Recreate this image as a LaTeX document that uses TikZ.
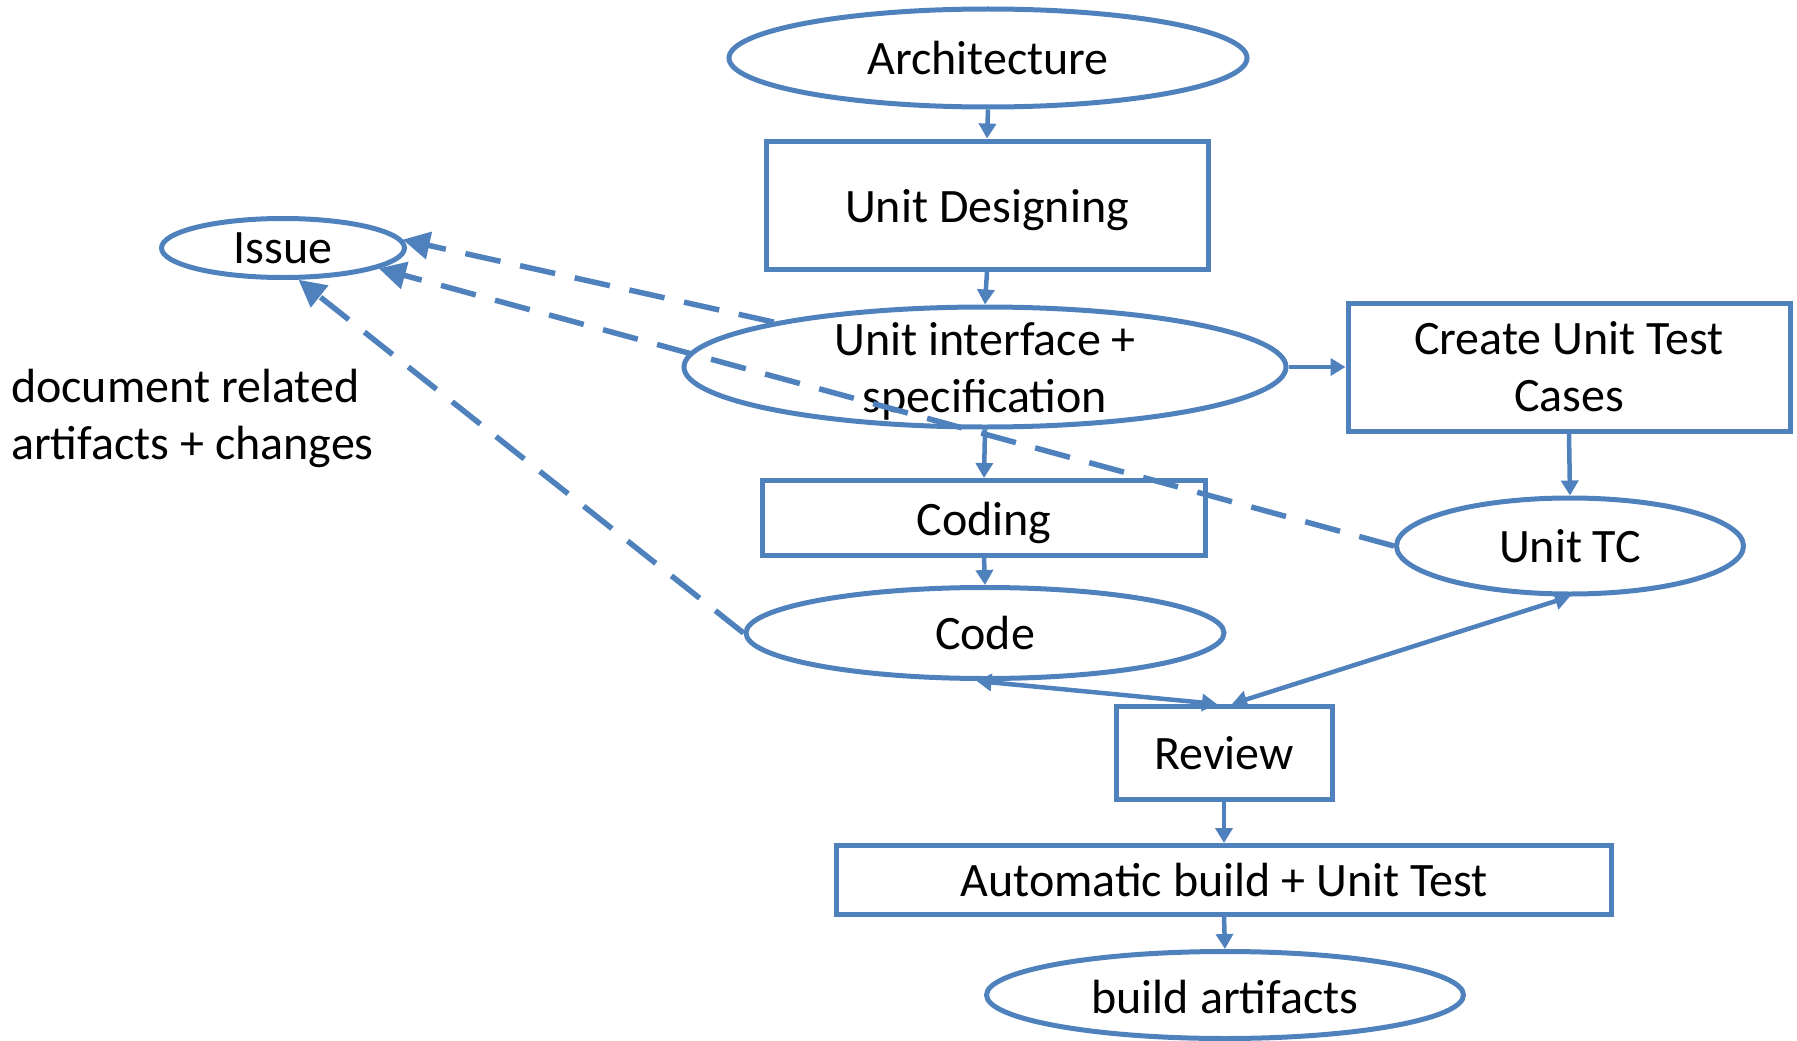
\documentclass[tikz,border=0pt]{standalone}
\usepackage{fontspec}
\setmainfont{Carlito}
\usetikzlibrary{arrows.meta,shapes.geometric}
\definecolor{ob}{HTML}{4F81BD}
\begin{document}
\begin{tikzpicture}[x=1pt,y=-1pt,
 every node/.style={font=\fontsize{48}{57}\selectfont, text=black},
 ell/.style={ellipse, draw=ob, line width=5pt, inner sep=0pt},
 box/.style={rectangle, draw=ob, line width=5pt, inner sep=0pt, align=center},
 lbl/.style={align=center, inner sep=0pt},
 conn/.style={draw=ob, line width=4.5pt, -{Triangle[length=15pt,width=17pt]}},
 both/.style={draw=ob, line width=4.5pt, {Triangle[length=15pt,width=17pt]}-{Triangle[length=15pt,width=17pt]}},
 dasharr/.style={draw=ob, line width=5.5pt, dash pattern=on 36pt off 20pt, -{Triangle[length=27pt,width=27pt]}}]
\useasboundingbox (0,0) rectangle (1797,1041);

\node[ell, minimum width=518pt, minimum height=98pt] (arch) at (988,58) {};
\node[lbl] (archl) at (arch) {Architecture};
\node[box, minimum width=442pt, minimum height=128pt] (ud) at (987,205) {};
\node[lbl, yshift=-5pt] (udl) at (ud) {Unit Designing};
\node[ell, minimum width=602pt, minimum height=120pt] (ui) at (985,367) {};
\node[lbl, yshift=-4pt] (uil) at (ui) {Unit interface +\\specification};
\node[box, minimum width=442pt, minimum height=128pt] (cutc) at (1569,367) {Create Unit Test\\Cases};
\node[box, minimum width=443pt, minimum height=75pt] (coding) at (984,518) {};
\node[lbl, yshift=-5pt] (codingl) at (coding) {Coding};
\node[ell, minimum width=347pt, minimum height=96pt] (utc) at (1570,546) {};
\node[lbl] (utcl) at (utc) {Unit TC};
\node[ell, minimum width=478pt, minimum height=91pt] (code) at (985,633) {};
\node[lbl] (codel) at (code) {Code};
\node[box, minimum width=216pt, minimum height=93pt] (review) at (1224,753) {Review};
\node[box, minimum width=775pt, minimum height=69pt] (auto) at (1224,880) {Automatic build + Unit Test};
\node[ell, minimum width=477pt, minimum height=87pt] (ba) at (1225,995) {};
\node[lbl, yshift=-2pt] (bal) at (ba) {build artifacts};
\node[ell, minimum width=243pt, minimum height=59pt] (issue) at (283,248) {};
\node[lbl] (issuel) at (issue) {Issue};
\node[lbl, align=left, anchor=west] (doc) at (11,418) {document related\\artifacts + changes};

\draw[conn] (arch.south) -- (ud.north);
\draw[conn] (ud.south) -- (ui.north);
\draw[conn] (ui.east) -- (cutc.west);
\draw[conn] (ui.south) -- (coding.north);
\draw[conn] (cutc.south) -- (utc.north);
\draw[conn] (coding.south) -- (code.north);
\draw[both] (code.260) -- ([xshift=-7pt]review.north);
\draw[both] ([xshift=8pt]review.north) -- (utc.south);
\draw[conn] (review.south) -- (auto.north);
\draw[conn] (auto.south) -- (ba.north);

\draw[dasharr] (ui.168) -- (issue.4);
\draw[dasharr] (utc.west) -- (issue.-12);
\draw[dasharr] (code.west) -- (issue.-64);
\end{tikzpicture}
\end{document}
